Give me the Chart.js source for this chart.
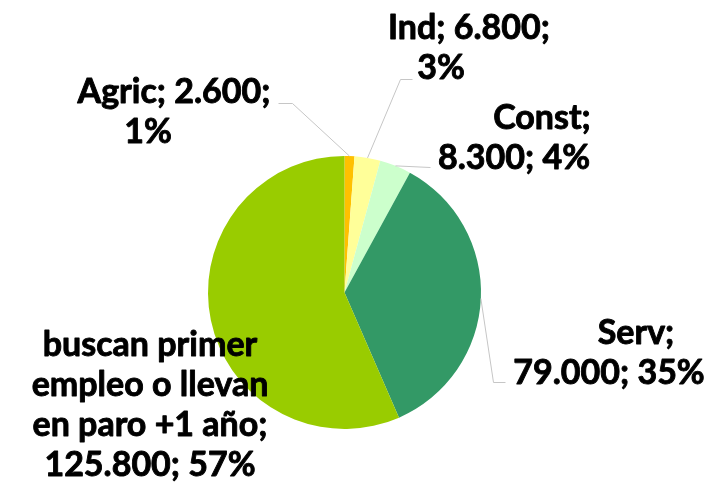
<!DOCTYPE html>
<html>
<head>
<meta charset="utf-8">
<script src="https://cdn.jsdelivr.net/npm/chart.js@4"></script>
<style>
html,body{margin:0;padding:0;background:#fff;}
#wrap{width:717px;height:482px;position:relative;}
</style>
</head>
<body>
<div id="wrap"><canvas id="c" width="717" height="482"></canvas></div>
<script>
const categories = ["Agric", "Ind", "Const", "Serv", "buscan primer empleo o llevan en paro +1 año"];
const values = [2600, 6800, 8300, 79000, 125800];
const percentLabels = ["1%", "3%", "4%", "35%", "57%"];
const colors = ["#FFC000", "#FFFF99", "#CCFFCC", "#339966", "#99CC00"];

// label layout: words per line, line centre x's, first line centre y, leader elbow points
const labelLayout = [
  {words:[2,1], xs:[174,148], y:92, leader:[[292,103],[278,103]]},
  {words:[2,1], xs:[469,441], y:28, leader:[[400,79],[412,79]]},
  {words:[1,2], xs:[542,514], y:118, leader:[[430,167]]},
  {words:[1,2], xs:[636,609], y:333, leader:[[493,382],[505,382]]},
  {words:[2,3,4,2], xs:[150,150,150,150], y:345, leader:null}
];
const LINE_H = 40;
const FONT = "bold 34px Lato";

function fmt(v){ return String(v).replace(/\B(?=(\d{3})+(?!\d))/g, "."); }

const labelPlugin = {
  id: 'labels',
  afterDraw(chart){
    const ctx = chart.ctx;
    const meta = chart.getDatasetMeta(0);
    ctx.save();
    meta.data.forEach((arc, i) => {
      const lay = labelLayout[i];
      const p = arc.getProps(['x','y','startAngle','endAngle','outerRadius'], true);
      const mid = (p.startAngle + p.endAngle) / 2;
      const sx = p.x + Math.cos(mid) * p.outerRadius;
      const sy = p.y + Math.sin(mid) * p.outerRadius;
      if (lay.leader){
        ctx.strokeStyle = "#c6c6c6";
        ctx.lineWidth = 1;
        ctx.beginPath();
        ctx.moveTo(sx, sy);
        lay.leader.forEach(pt => ctx.lineTo(pt[0]+0.5, pt[1]+0.5));
        ctx.stroke();
      }
      const words = (categories[i] + "; " + fmt(values[i]) + "; " + percentLabels[i]).split(" ");
      let k = 0;
      ctx.fillStyle = "#000";
      ctx.strokeStyle = "#000";
      ctx.lineWidth = 0.9;
      ctx.lineJoin = "round";
      ctx.font = FONT;
      ctx.textAlign = "center";
      ctx.textBaseline = "middle";
      lay.words.forEach((n, li) => {
        const line = words.slice(k, k+n).join(" ");
        k += n;
        ctx.fillText(line, lay.xs[li], lay.y + li*LINE_H);
        ctx.strokeText(line, lay.xs[li], lay.y + li*LINE_H);
      });
    });
    ctx.restore();
  }
};

new Chart(document.getElementById('c'), {
  type: 'pie',
  data: {
    labels: categories,
    datasets: [{
      data: values,
      backgroundColor: colors,
      borderWidth: 0
    }]
  },
  options: {
    responsive: false,
    animation: false,
    layout: { padding: { left: 208, right: 236, top: 156, bottom: 53 } },
    plugins: { legend: { display: false }, tooltip: { enabled: false } }
  },
  plugins: [labelPlugin]
});
</script>
</body>
</html>
